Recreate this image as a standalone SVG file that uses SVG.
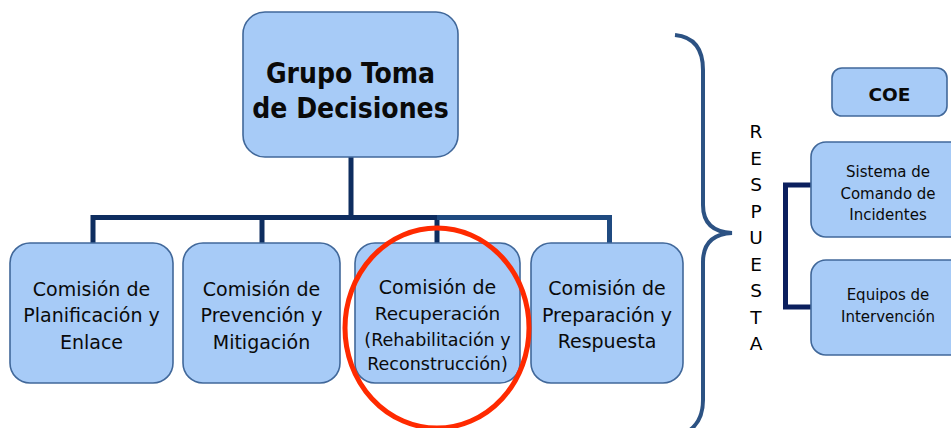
<svg xmlns="http://www.w3.org/2000/svg" width="951" height="428" viewBox="0 0 951 428">
<style>
.box{fill:#A7CBF7;stroke:#41689A;stroke-width:1.6}
.t{font-family:"DejaVu Sans","Liberation Sans",sans-serif;font-size:19px;fill:#0A0A0A;text-anchor:middle}
.title{font-family:"DejaVu Sans Condensed","DejaVu Sans","Liberation Sans",sans-serif;font-weight:bold;font-size:28px;fill:#0A0A0A;text-anchor:middle}
.s{font-family:"DejaVu Sans","Liberation Sans",sans-serif;font-size:15px;fill:#0A0A0A;text-anchor:middle}
.v{font-family:"DejaVu Sans","Liberation Sans",sans-serif;font-size:18.5px;fill:#000;text-anchor:middle}
.ln{fill:none;stroke-width:5;stroke-linecap:butt}
</style>
<g id="connectors">
<path class="ln" stroke="#0E2D5F" d="M351,157 V217.5 M90.5,217.5 H440 M93,217.5 V243 M262,217.5 V243 M437,217.5 V243"/>
<path class="ln" stroke="#1F4A80" d="M437,217.5 H609.5 V243"/>
<path class="ln" stroke="#0B1F5E" d="M811,185 H785.5 V307 H811"/>
<path fill="none" stroke="#2C5283" stroke-width="4" d="M675,35 C695,37 703,50 703,70 L703,205 C703,222 712,232 732,233 C712,234 703,244 703,262 L703,400 C703,415 698,424 690,430"/>
</g>
<g id="grupo">
<rect class="box" x="243" y="12" width="215" height="145" rx="22"/>
<text class="title" x="350.5" y="83">Grupo Toma</text>
<text class="title" x="350.5" y="118">de Decisiones</text>
</g>
<g id="planificacion">
<rect class="box" x="10" y="243" width="163" height="140" rx="20"/>
<text class="t" x="91.5" y="296">Comisión de</text>
<text class="t" x="91.5" y="322">Planificación y</text>
<text class="t" x="91.5" y="349">Enlace</text>
</g>
<g id="prevencion">
<rect class="box" x="183" y="243" width="157" height="140" rx="20"/>
<text class="t" x="261.5" y="296">Comisión de</text>
<text class="t" x="261.5" y="322">Prevención y</text>
<text class="t" x="261.5" y="349">Mitigación</text>
</g>
<g id="recuperacion">
<rect class="box" x="355" y="243" width="165" height="140" rx="20"/>
<text class="t" x="437.5" y="294">Comisión de</text>
<text class="t" x="437.5" y="320" style="font-size:18.5px">Recuperación</text>
<text class="t" x="437.5" y="346" style="font-size:17.5px">(Rehabilitación y</text>
<text class="t" x="437.5" y="370" style="font-size:17.5px">Reconstrucción)</text>
</g>
<g id="preparacion">
<rect class="box" x="531" y="243" width="152" height="140" rx="20"/>
<text class="t" x="607" y="295">Comisión de</text>
<text class="t" x="607" y="322">Preparación y</text>
<text class="t" x="607" y="348">Respuesta</text>
</g>
<g id="respuesta">
<text class="v" x="756" y="138">R</text>
<text class="v" x="756" y="164.5">E</text>
<text class="v" x="756" y="191">S</text>
<text class="v" x="756" y="217.5">P</text>
<text class="v" x="756" y="244">U</text>
<text class="v" x="756" y="270.5">E</text>
<text class="v" x="756" y="297">S</text>
<text class="v" x="756" y="323.5">T</text>
<text class="v" x="756" y="350">A</text>
</g>
<g id="coe">
<rect class="box" x="832" y="68" width="115" height="48" rx="10"/>
<text class="t" x="889.5" y="101" style="font-weight:bold;font-size:18.5px">COE</text>
</g>
<g id="sistema">
<rect class="box" x="811" y="142" width="170" height="95" rx="15"/>
<text class="s" x="888" y="177">Sistema de</text>
<text class="s" x="888" y="198.5">Comando de</text>
<text class="s" x="888" y="220">Incidentes</text>
</g>
<g id="equipos">
<rect class="box" x="811" y="260" width="170" height="95" rx="15"/>
<text class="s" x="888" y="300">Equipos de</text>
<text class="s" x="888" y="322">Intervención</text>
</g>
<g id="highlight">
<ellipse cx="437" cy="328" rx="92" ry="100" fill="none" stroke="#FF2A00" stroke-width="5"/>
</g>
</svg>
